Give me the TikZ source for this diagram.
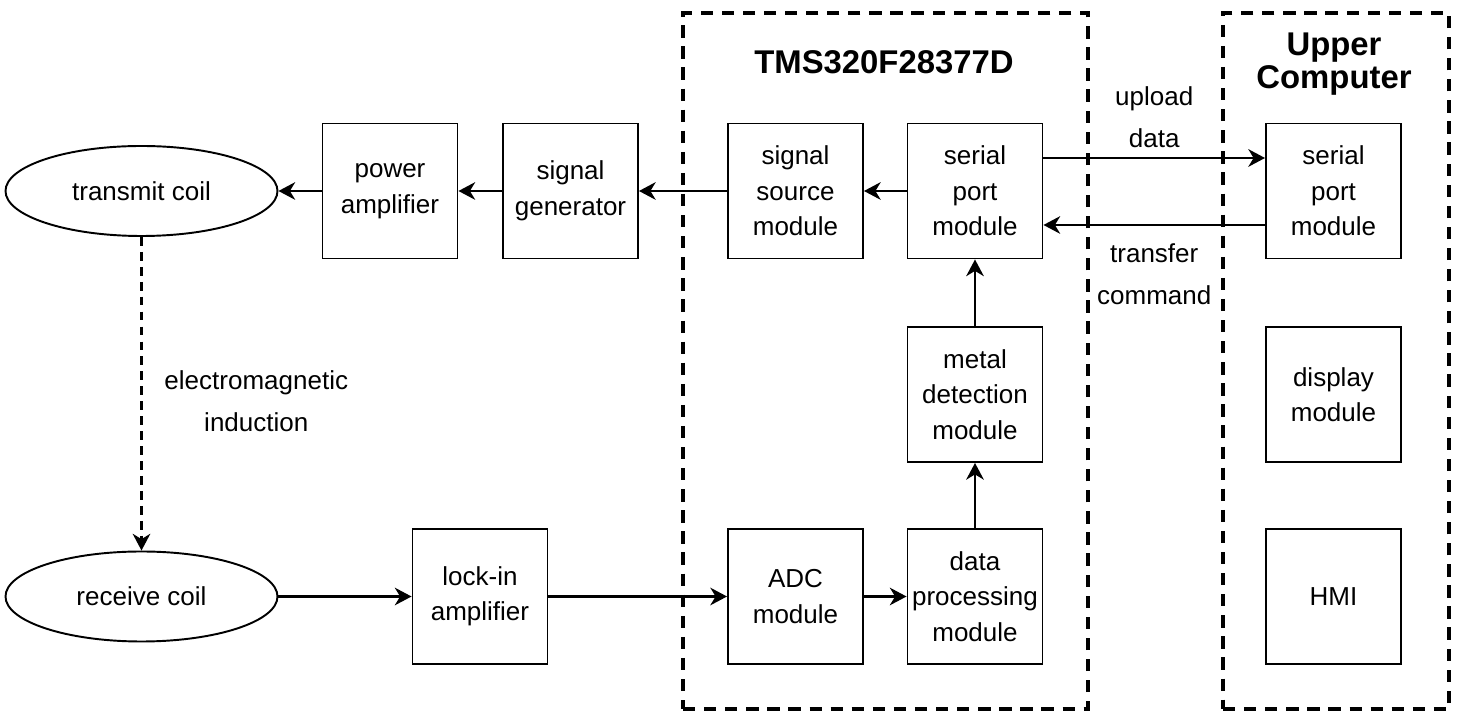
\documentclass[tikz,border=0pt]{standalone}
\usepackage{fontspec}
\setmainfont{Liberation Sans}
\usepackage{tikz}
\usetikzlibrary{positioning, arrows.meta, shapes.geometric, calc}

\begin{document}
\begin{tikzpicture}[
  every node/.style={font=\fontsize{14.8pt}{20.2pt}\selectfont},
  modbox/.style={
    rectangle, draw=black, line width=1.1pt,
    minimum width=2.7cm, minimum height=2.7cm,
    inner sep=1pt, align=center
  },
  coil/.style={
    ellipse, draw=black, line width=1.1pt,
    minimum width=5.44cm, minimum height=1.8cm
  },
  groupbox/.style={
    rectangle, draw=black, line width=2.3pt,
    dash pattern=on 7pt off 5pt,
    minimum width=#1, minimum height=13.92cm
  },
  title/.style={font=\fontsize{18.7pt}{19pt}\selectfont\bfseries, align=center},
  edgelabel/.style={font=\fontsize{14.8pt}{23.9pt}\selectfont, align=center, inner sep=1pt},
  arr/.style={line width=1.4pt, -{Stealth[length=9.5pt, width=10pt, inset=3pt]}},
]
\useasboundingbox (0,0) rectangle (29.14,-14.36);

% === CONTAINERS ===
\node[groupbox=8.10cm] (tms) at (17.71,-7.22) {};
\node[title] (tms-title) at (17.68,-1.24) {TMS320F28377D};
\node[groupbox=4.52cm] (upper) at (26.72,-7.22) {};
\node[title] (upper-title) at (26.68,-1.28) {Upper\\Computer};

% === TRANSMIT CHAIN ===
\node[coil] (txcoil) at (2.83,-3.82) {transmit coil};
\node[modbox] (pwramp) at (7.80,-3.82) {power\\amplifier};
\node[modbox] (siggen) at (11.41,-3.82) {signal\\generator};
\node[modbox] (sigsrc) at (15.91,-3.82) {signal\\source\\module};
\node[modbox] (serial) at (19.50,-3.82) {serial\\port\\module};

\draw[arr] (serial) -- (sigsrc);
\draw[arr] (sigsrc) -- (siggen);
\draw[arr] (siggen) -- (pwramp);
\draw[arr] (pwramp) -- (txcoil);

% === RECEIVE CHAIN ===
\node[coil] (rxcoil) at (2.83,-11.93) {receive coil};
\node[modbox] (lockin) at (9.60,-11.93) {lock-in\\amplifier};
\node[modbox] (adc) at (15.91,-11.93) {ADC\\module};
\node[modbox] (dataproc) at (19.50,-11.93) {data\\processing\\module};
\node[modbox] (metal) at (19.50,-7.89) {metal\\detection\\module};

\draw[arr] (rxcoil) -- (lockin);
\draw[arr] (lockin) -- (adc);
\draw[arr] (adc) -- (dataproc);
\draw[arr] (dataproc) -- (metal);
\draw[arr] (metal) -- (serial);

% induction between the coils
\draw[line width=1.4pt, dash pattern=on 5pt off 3.5pt,
  -{Stealth[length=9.5pt, width=10pt, inset=3pt]}] (txcoil) -- (rxcoil)
  node[midway, right=0.4cm, edgelabel, yshift=-0.15cm] (induct) {electromagnetic\\induction};

% === UPPER COMPUTER ===
\node[modbox] (upserial) at (26.67,-3.82) {serial\\port\\module};
\node[modbox] (display) at (26.67,-7.89) {display\\module};
\node[modbox] (hmi) at (26.67,-11.93) {HMI};

\draw[arr] ([yshift=0.66cm]serial.east) -- ([yshift=0.66cm]upserial.west)
  node[midway, above=0.14cm, edgelabel] (upload) {upload\\data};
\draw[arr] ([yshift=-0.68cm]upserial.west) -- ([yshift=-0.68cm]serial.east)
  node[midway, below=0.32cm, edgelabel] (transfer) {transfer\\command};

\end{tikzpicture}
\end{document}
